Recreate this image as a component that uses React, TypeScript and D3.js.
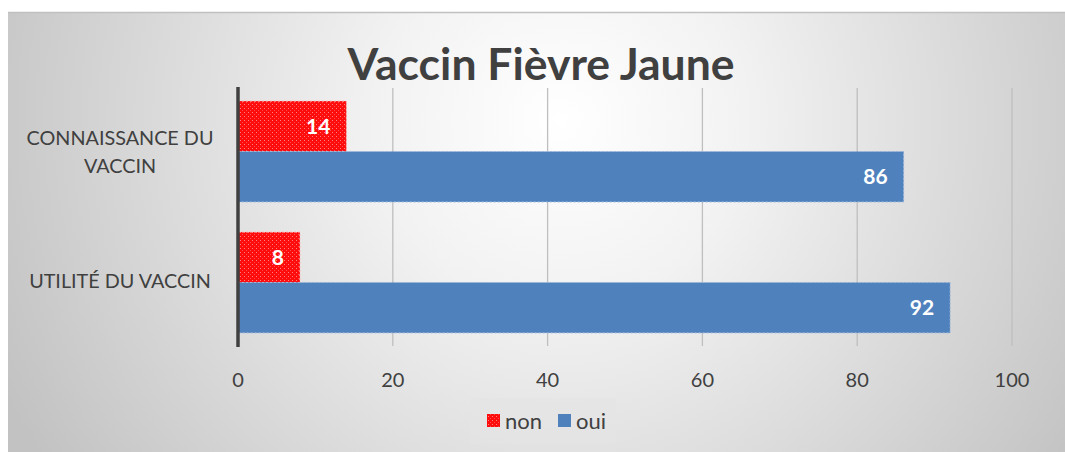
import React from "react";
import * as d3 from "d3";

const categories = ["CONNAISSANCE DU VACCIN", "UTILITÉ DU VACCIN"];
const seriesNames = ["non", "oui"];
const nonValues = [14, 8];
const ouiValues = [86, 92];
const tickValues = [0, 20, 40, 60, 80, 100];
const title = "Vaccin Fièvre Jaune";

const W = 1065;
const H = 452;
const FONT = "Lato, 'Open Sans', sans-serif";

function wrap(label: string, max: number): string[] {
  const words = label.split(" ");
  const lines: string[] = [];
  let cur = "";
  for (const w of words) {
    const t = cur ? cur + " " + w : w;
    if (t.length > max && cur) {
      lines.push(cur);
      cur = w;
    } else cur = t;
  }
  if (cur) lines.push(cur);
  return lines;
}

export default function App() {
  const x = d3.scaleLinear().domain([0, 100]).range([238, 1012]);
  const y = d3
    .scaleBand<string>()
    .domain(categories)
    .range([88, 346])
    .paddingInner(0.23)
    .paddingOuter(0.1);
  const ys = d3.scaleBand<string>().domain(seriesNames).range([0, y.bandwidth()]);
  const colors: Record<string, string> = { non: "url(#redPat)", oui: "#4f81bd" };
  const values: Record<string, number[]> = { non: nonValues, oui: ouiValues };

  return (
    <svg
      width={W}
      height={H}
      style={{ position: "absolute", left: 0, top: 0, display: "block" }}
    >
      <defs>
        <radialGradient id="bg" gradientUnits="userSpaceOnUse" cx={560} cy={120} r={620}>
          <stop offset="0" stopColor="#ffffff" />
          <stop offset="0.3" stopColor="#f2f2f2" />
          <stop offset="1" stopColor="#c2c2c2" />
        </radialGradient>
        <pattern id="redPat" patternUnits="userSpaceOnUse" width={4} height={4}>
          <rect width={4} height={4} fill="#ff0d0d" />
          <rect x={0} y={0} width={1} height={1} fill="#ff8080" />
          <rect x={2} y={2} width={1} height={1} fill="#ff4d4d" />
        </pattern>
      </defs>
      <rect x={0} y={0} width={W} height={H} fill="#ffffff" />
      <rect x={8} y={12} width={W - 8} height={H - 12} fill="url(#bg)" />
      <line x1={8} x2={W} y1={12.5} y2={12.5} stroke="#c0c0c0" strokeWidth={1.5} />

      <text
        x={541}
        y={80}
        textAnchor="middle"
        fontFamily={FONT}
        fontWeight="bold"
        fontSize={44.5}
        fill="#404040"
      >
        {title}
      </text>

      {tickValues.filter((t) => t !== 0).map((t) => (
        <line
          key={"g" + t}
          x1={x(t)}
          x2={x(t)}
          y1={88}
          y2={346}
          stroke="#bfbfbf"
          strokeWidth={1.3}
        />
      ))}

      {categories.map((c, i) =>
        seriesNames.map((s) => {
          const v = values[s][i];
          const y0 = (y(c) as number) + (ys(s) as number);
          const h = ys.bandwidth();
          return (
            <g key={c + s}>
              <rect
                x={x(0)}
                y={y0}
                width={x(v) - x(0)}
                height={h}
                fill={colors[s]}
                stroke={s === "non" ? "#ffb3b3" : "#9db8db"}
                strokeWidth={1}
                strokeDasharray="2 2"
              />
              <text
                x={x(v) - 16}
                y={y0 + h / 2}
                dy="0.35em"
                textAnchor="end"
                fontFamily={FONT}
                fontWeight="bold"
                fontSize={21}
                fill="#ffffff"
              >
                {v}
              </text>
            </g>
          );
        })
      )}

      <line x1={x(0)} x2={x(0)} y1={87} y2={347} stroke="#404040" strokeWidth={3.5} />

      {tickValues.map((t) => (
        <text
          key={"t" + t}
          x={x(t)}
          y={387}
          textAnchor="middle"
          fontFamily={FONT}
          fontSize={20}
          fill="#404040"
        >
          {t}
        </text>
      ))}

      {categories.map((c) => {
        const lines = wrap(c, 17);
        const cy = (y(c) as number) + y.bandwidth() / 2 + (lines.length > 1 ? 1 : -1);
        const lh = 28;
        return (
          <text
            key={"c" + c}
            textAnchor="middle"
            fontFamily={FONT}
            fontSize={19.8}
            fill="#404040"
          >
            {lines.map((l, k) => (
              <tspan key={k} x={120} y={cy + (k - (lines.length - 1) / 2) * lh} dy="0.35em">
                {l}
              </tspan>
            ))}
          </text>
        );
      })}

      <rect x={470} y={398} width={146} height={46} fill="#e4e4e4" opacity={0.6} />
      {seriesNames.map((s, i) => {
        const lx = i === 0 ? 487 : 558;
        return (
          <g key={"l" + s}>
            <rect x={lx} y={414} width={13} height={13} fill={colors[s]} />
            <text
              x={lx + 18}
              y={421}
              dy="0.35em"
              fontFamily={FONT}
              fontSize={22}
              fill="#404040"
            >
              {s}
            </text>
          </g>
        );
      })}
    </svg>
  );
}
